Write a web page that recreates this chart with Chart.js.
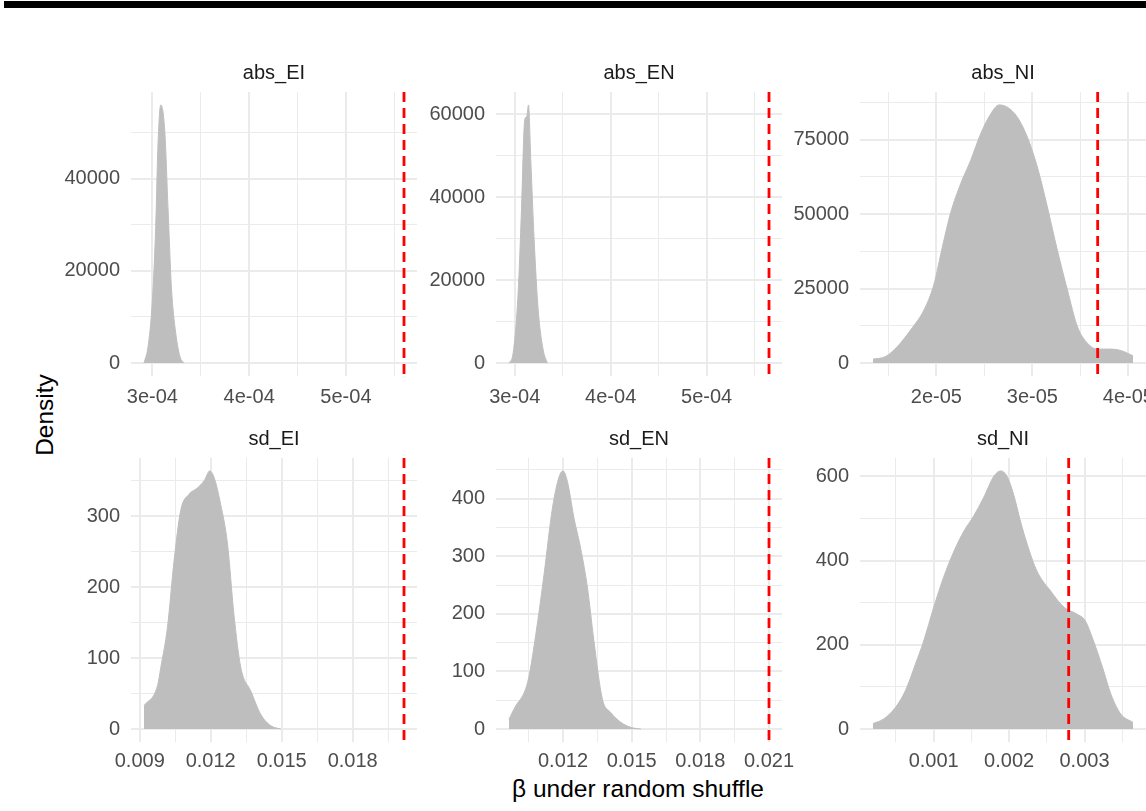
<!DOCTYPE html>
<html>
<head>
<meta charset="utf-8">
<script src="https://cdn.jsdelivr.net/npm/chart.js@4.4.0/dist/chart.umd.min.js"></script>
<style>
html, body { margin:0; padding:0; background:#fff; overflow:hidden; width:1146px; height:811px; }
.panel { position:absolute; }
#topbar { position:absolute; left:4px; top:1px; width:1142px; height:7px; background:#000; }
.axis-title { position:absolute; font-family:'Liberation Sans', Arial, sans-serif; font-size:24.5px; color:#000; white-space:nowrap; }
#ytitle { left:45px; top:415px; transform:translate(-50%,-50%) rotate(-90deg); }
#xtitle { left:638px; top:789px; transform:translate(-50%,-50%); }
</style>
</head>
<body>
<div id="topbar"></div>
<div class="axis-title" id="ytitle">Density</div>
<div class="axis-title" id="xtitle">β under random shuffle</div>
<script>
const panelNames = ['abs_EI', 'abs_EN', 'abs_NI', 'sd_EI', 'sd_EN', 'sd_NI'];

// density curves
const absEI_x = [2.913e-4, 2.955e-4, 3.0e-4, 3.034e-4, 3.058e-4, 3.086e-4, 3.127e-4, 3.162e-4, 3.196e-4, 3.241e-4, 3.285e-4, 3.327e-4];
const absEI_y = [0, 3600, 13700, 29600, 47700, 56000, 50600, 33200, 16600, 6500, 1400, 0];

const absEN_x = [2.94e-4, 2.983e-4, 3.035e-4, 3.07e-4, 3.104e-4, 3.125e-4, 3.143e-4, 3.167e-4, 3.202e-4, 3.244e-4, 3.296e-4, 3.34e-4];
const absEN_y = [0, 2400, 16900, 36900, 58600, 59400, 62200, 49000, 29700, 12900, 3200, 0];

const absNI_x = [1.34e-5, 1.472e-5, 1.594e-5, 1.732e-5, 1.871e-5, 1.975e-5, 2.063e-5, 2.149e-5, 2.253e-5, 2.357e-5, 2.461e-5, 2.566e-5, 2.652e-5,
                 2.74e-5, 2.844e-5, 2.948e-5, 3.052e-5, 3.156e-5, 3.26e-5, 3.365e-5, 3.469e-5, 3.573e-5, 3.677e-5, 3.816e-5, 3.92e-5, 4.048e-5];
const absNI_y = [1340, 2230, 5580, 11150, 17850, 26500, 39040, 50500, 60240, 68050, 76970, 83660, 86670,
                 85890, 82550, 75850, 65810, 52430, 37930, 24540, 12270, 6690, 4690, 4690, 4240, 2450];

const sdEI_x = [0.00918, 0.00975, 0.00989, 0.01017, 0.01045, 0.01073, 0.01108, 0.01144, 0.01172, 0.01196, 0.01214, 0.01242, 0.01271,
                0.01298, 0.01327, 0.01369, 0.01411, 0.01453, 0.01496];
const sdEI_y = [33, 61, 87, 143, 237, 308, 331, 340, 350, 364, 355, 317, 261, 162, 87, 54, 21, 5, 0];

const sdEN_x = [0.00964, 0.00993, 0.0103, 0.0105, 0.01081, 0.01117, 0.01154, 0.01183, 0.0120, 0.01219, 0.01248, 0.01277, 0.01307,
                0.01335, 0.01372, 0.01408, 0.01452, 0.01496, 0.0154];
const sdEN_y = [17, 40, 63, 89, 164, 268, 384, 438, 448, 430, 366, 314, 245, 153, 52, 29, 12, 3, 0];

const sdNI_x = [0.000195, 0.000336, 0.000491, 0.000624, 0.000757, 0.000867, 0.0010, 0.00113, 0.00127, 0.0014, 0.00153, 0.00166, 0.0018, 0.00189,
                0.00197, 0.00206, 0.00215, 0.00224, 0.00237, 0.00255, 0.00273, 0.0029, 0.00301, 0.00312, 0.00324, 0.00335, 0.00348, 0.003643];
const sdNI_y = [13, 24, 51, 91, 154, 209, 289, 360, 423, 470, 506, 549, 601, 613, 601, 557, 494, 439, 375, 328, 289, 273, 257, 209, 146, 83, 36, 16];

// observed beta (red dashed line)
const observed = [5.60e-4, 5.65e-4, 3.68e-5, 0.02017, 0.0210, 0.00279];

// x ticks
const absX_main = [3e-4, 4e-4, 5e-4];
const absX_labels = ['3e-04', '4e-04', '5e-04'];
const absX_minor = [3.5e-4, 4.5e-4, 5.5e-4];
const absNIX_main = [2e-5, 3e-5, 4e-5];
const absNIX_labels = ['2e-05', '3e-05', '4e-05'];
const absNIX_minor = [1.5e-5, 2.5e-5, 3.5e-5];
const sdEIX_main = [0.009, 0.012, 0.015, 0.018];
const sdEIX_labels = ['0.009', '0.012', '0.015', '0.018'];
const sdENX_main = [0.012, 0.015, 0.018, 0.021];
const sdENX_labels = ['0.012', '0.015', '0.018', '0.021'];
const sdX_minor = [0.0105, 0.0135, 0.0165, 0.0195];
const sdNIX_main = [0.001, 0.002, 0.003];
const sdNIX_labels = ['0.001', '0.002', '0.003'];
const sdNIX_minor = [0.0005, 0.0015, 0.0025, 0.0035];

// y ticks
const absEIY_main = [0, 20000, 40000];
const absEIY_minor = [10000, 30000, 50000];
const absENY_main = [0, 20000, 40000, 60000];
const absENY_minor = [10000, 30000, 50000];
const absNIY_main = [0, 25000, 50000, 75000];
const absNIY_minor = [12500, 37500, 62500, 87500];
const sdEIY_main = [0, 100, 200, 300];
const sdEIY_minor = [50, 150, 250, 350];
const sdENY_main = [0, 100, 200, 300, 400];
const sdENY_minor = [50, 150, 250, 350, 450];
const sdNIY_main = [0, 200, 400, 600];
const sdNIY_minor = [100, 300, 500];

const panels = [
    [absEI_x, absEI_y, absX_main, absX_labels, absX_minor, absEIY_main, absEIY_minor],
    [absEN_x, absEN_y, absX_main, absX_labels, absX_minor, absENY_main, absENY_minor],
    [absNI_x, absNI_y, absNIX_main, absNIX_labels, absNIX_minor, absNIY_main, absNIY_minor],
    [sdEI_x, sdEI_y, sdEIX_main, sdEIX_labels, sdX_minor, sdEIY_main, sdEIY_minor],
    [sdEN_x, sdEN_y, sdENX_main, sdENX_labels, sdX_minor, sdENY_main, sdENY_minor],
    [sdNI_x, sdNI_y, sdNIX_main, sdNIX_labels, sdNIX_minor, sdNIY_main, sdNIY_minor]
];

// layout of the facet grid
const colLeft = [131, 496, 860];
const rowTop = [92, 458];
const plotW = 286, plotH = 284;
const yAxisW = 80, stripH = 50, xAxisH = 45, padRight = 30;

Chart.defaults.font.family = "'Liberation Sans', Arial, sans-serif";

function tickList(main, text, minor) {
    const t = main.map((v, k) => ({ value: v, main: true, text: text ? text[k] : String(v) }));
    minor.forEach(v => t.push({ value: v, main: false, text: '' }));
    return t.sort((a, b) => a.value - b.value);
}

function gridOpts() {
    return {
        color: '#ebebeb',
        lineWidth: c => (c.tick && c.tick.main ? 2 : 1),
        drawTicks: false
    };
}

panels.forEach((p, i) => {
    const [xs, ys, xMain, xText, xMinor, yMain, yMinor] = p;
    const obs = observed[i];

    const lo = Math.min(...xs, obs), hi = Math.max(...xs, obs);
    const padX = (hi - lo) * 0.05;
    const top = Math.max(...ys);
    const row = Math.floor(i / 3);

    const canvas = document.createElement('canvas');
    canvas.className = 'panel';
    canvas.width = yAxisW + plotW + padRight;
    canvas.height = stripH + plotH + xAxisH;
    canvas.style.left = (colLeft[i % 3] - yAxisW) + 'px';
    canvas.style.top = (rowTop[row] - stripH) + 'px';
    document.body.appendChild(canvas);

    new Chart(canvas, {
        type: 'line',
        data: {
            datasets: [{
                data: [{ x: obs, y: top * 1.05 }, { x: obs, y: -top * 0.05 }],
                borderColor: '#ff0000',
                borderWidth: 2.8,
                borderDash: [10, 6],
                pointRadius: 0,
                fill: false,
                order: 1
            }, {
                data: xs.map((x, k) => ({ x: x, y: ys[k] })),
                borderColor: '#bebebe',
                backgroundColor: '#bebebe',
                borderWidth: 1,
                pointRadius: 0,
                fill: 'origin',
                cubicInterpolationMode: 'monotone',
                order: 2
            }]
        },
        options: {
            responsive: false,
            animation: false,
            devicePixelRatio: 1,
            layout: { padding: { left: 0, top: 0, right: padRight, bottom: 0 } },
            plugins: {
                legend: { display: false },
                tooltip: { enabled: false },
                title: {
                    display: true,
                    text: panelNames[i],
                    fullSize: false,
                    color: '#1a1a1a',
                    font: { size: 20, weight: 'normal' },
                    padding: { top: 19.4, bottom: 6.6 }
                }
            },
            scales: {
                x: {
                    type: 'linear',
                    bounds: 'data',
                    min: lo - padX,
                    max: hi + padX,
                    afterBuildTicks: s => { s.ticks = tickList(xMain, xText, xMinor); },
                    afterFit: s => { s.height = xAxisH; },
                    grid: gridOpts(),
                    border: { display: false },
                    ticks: {
                        autoSkip: false, maxRotation: 0, padding: row === 0 ? 9 : 7,
                        color: '#4d4d4d', font: { size: 20 },
                        callback: (v, k, t) => t[k].text
                    }
                },
                y: {
                    type: 'linear',
                    bounds: 'data',
                    min: -top * 0.05,
                    max: top * 1.05,
                    afterBuildTicks: s => { s.ticks = tickList(yMain, null, yMinor); },
                    afterFit: s => { s.width = yAxisW; },
                    grid: gridOpts(),
                    border: { display: false },
                    ticks: {
                        autoSkip: false, padding: 11,
                        color: '#4d4d4d', font: { size: 20 },
                        callback: (v, k, t) => t[k].text
                    }
                }
            }
        }
    });
});
</script>
</body>
</html>
